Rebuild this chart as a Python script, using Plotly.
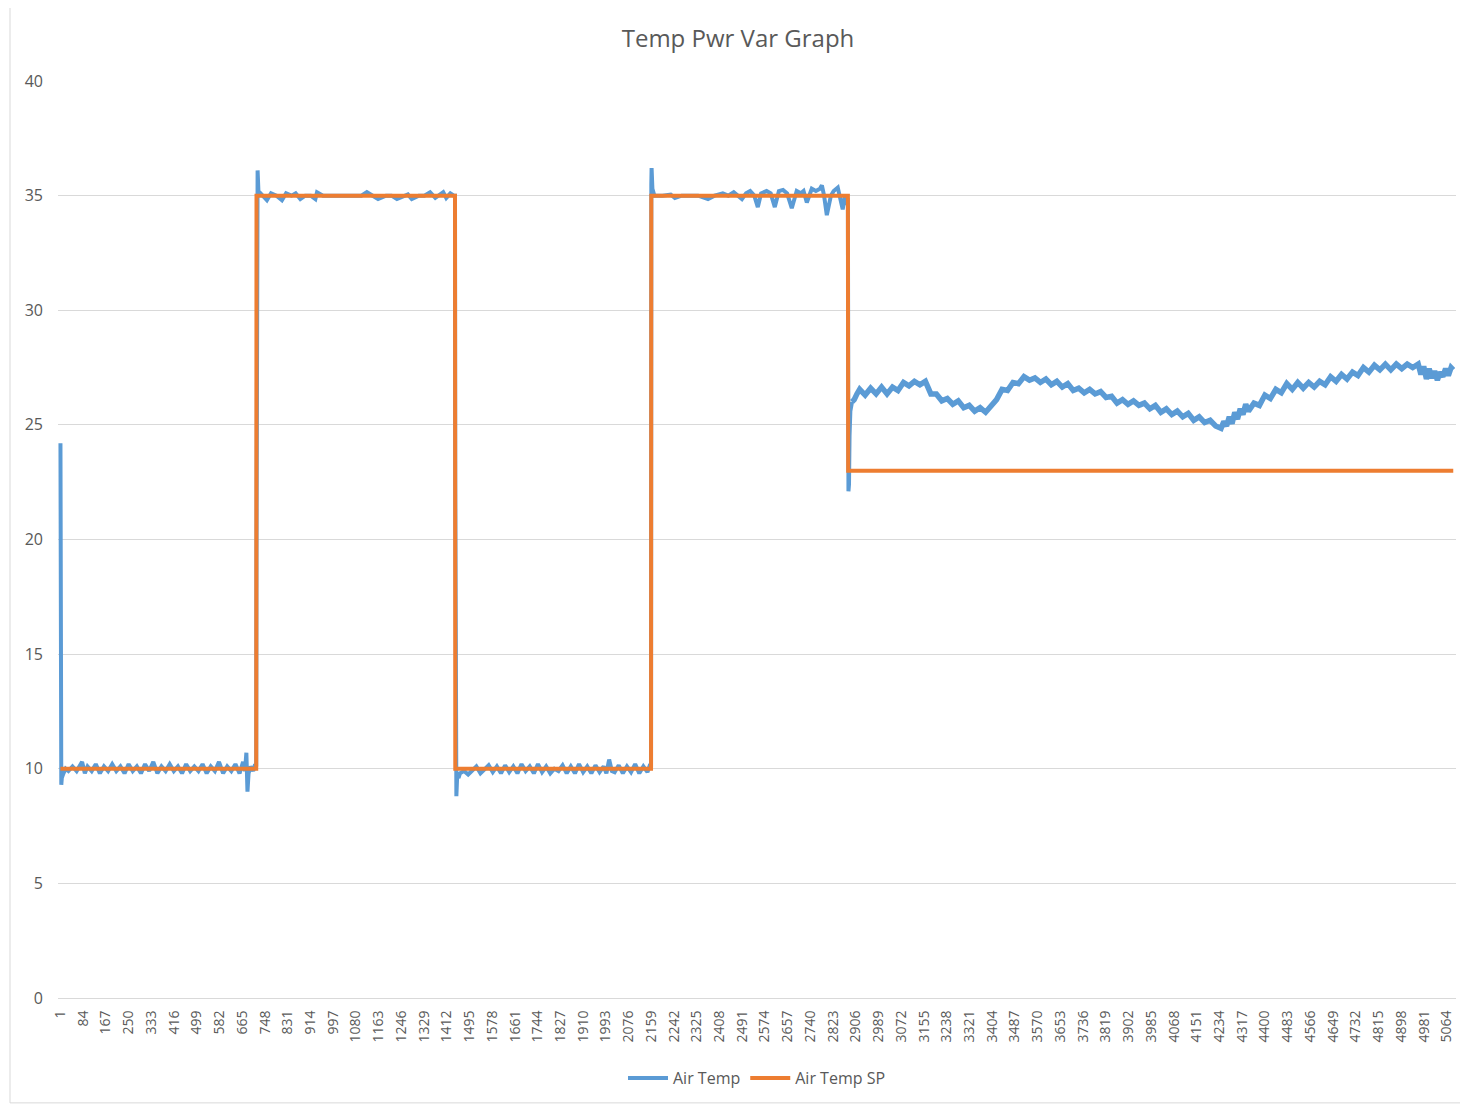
import plotly.graph_objects as go

# ---------------- data ----------------
title_text = "Temp Pwr Var Graph"
series_names = ["Air Temp", "Air Temp SP"]

x_tick_labels = [1, 84, 167, 250, 333, 416, 499, 582, 665, 748, 831, 914, 997, 1080,
                 1163, 1246, 1329, 1412, 1495, 1578, 1661, 1744, 1827, 1910, 1993, 2076,
                 2159, 2242, 2325, 2408, 2491, 2574, 2657, 2740, 2823, 2906, 2989, 3072,
                 3155, 3238, 3321, 3404, 3487, 3570, 3653, 3736, 3819, 3902, 3985, 4068,
                 4151, 4234, 4317, 4400, 4483, 4566, 4649, 4732, 4815, 4898, 4981, 5064]
y_ticks = [0, 5, 10, 15, 20, 25, 30, 35, 40]

# Air Temp SP (set point) - sample index / value
sp_idx = [1, 716, 717, 1442, 1443, 2158, 2159, 2877, 2878, 5088]
sp_val = [10, 10, 35, 35, 10, 10, 35, 35, 23, 23]

air_idx_low1 = [1, 2, 3, 4, 6, 12, 20, 30, 45, 60, 80, 90, 100, 115, 130, 145, 160, 175,
                190, 205, 220, 235, 250, 265, 280, 295, 310, 325, 340, 355, 370, 385, 400,
                415, 430, 445, 460, 475, 490, 505, 520, 535, 550, 565, 580, 595, 610, 625,
                640, 655, 668, 675, 680, 684, 688, 695, 705, 712, 716]
air_val_low1 = [24.2, 20.6, 13.2, 9.3, 9.6, 9.8, 10.0, 9.9, 10.1, 9.9, 10.3, 9.8, 10.1,
                9.9, 10.2, 9.8, 10.1, 9.9, 10.2, 9.9, 10.1, 9.8, 10.2, 9.9, 10.1, 9.8, 10.2,
                9.9, 10.3, 9.8, 10.1, 9.9, 10.2, 9.9, 10.1, 9.8, 10.2, 9.9, 10.1, 9.9, 10.2,
                9.8, 10.1, 9.9, 10.3, 9.8, 10.1, 9.9, 10.2, 9.8, 10.3, 9.9, 10.7, 9.0, 9.8,
                10.1, 9.9, 10.2, 10.1]

air_idx_high1 = [717, 718, 719, 721, 724, 740, 755, 770, 790, 810, 825, 845, 860, 877,
                 895, 915, 932, 938, 960, 990, 1020, 1050, 1080, 1100, 1120, 1140, 1161,
                 1190, 1210, 1230, 1255, 1270, 1284, 1310, 1330, 1351, 1370, 1385, 1399,
                 1410, 1425, 1438, 1442]
air_val_high1 = [19.5, 22.6, 35.2, 36.1, 35.2, 35.0, 34.8, 35.1, 35.0, 34.8, 35.1, 35.0,
                 35.1, 34.85, 35.0, 35.0, 34.85, 35.15, 35.0, 35.0, 35.0, 35.0, 35.0, 35.0,
                 35.15, 35.0, 34.85, 35.0, 35.0, 34.85, 35.0, 35.05, 34.85, 35.0, 35.0,
                 35.15, 34.9, 35.05, 35.15, 34.9, 35.1, 35.0, 35.0]

air_idx_low2 = [1443, 1444, 1445, 1447, 1450, 1455, 1460, 1475, 1490, 1505, 1520, 1535,
                1550, 1565, 1580, 1595, 1610, 1625, 1640, 1655, 1670, 1685, 1700, 1715,
                1730, 1745, 1760, 1775, 1790, 1805, 1820, 1835, 1850, 1865, 1880, 1895,
                1910, 1925, 1940, 1955, 1970, 1985, 1995, 2005, 2015, 2025, 2040, 2055,
                2070, 2085, 2100, 2115, 2130, 2145, 2155, 2158]
air_val_low2 = [22.6, 17.5, 12.3, 8.8, 9.7, 9.6, 9.8, 9.9, 9.75, 9.9, 10.1, 9.8, 10.0,
                10.15, 9.85, 10.1, 9.8, 10.15, 9.85, 10.1, 9.8, 10.2, 9.9, 10.1, 9.8, 10.2,
                9.85, 10.1, 9.8, 10.0, 9.9, 10.15, 9.8, 10.1, 9.8, 10.2, 9.85, 10.1, 9.8,
                10.15, 9.85, 10.1, 9.8, 10.4, 9.9, 9.85, 10.15, 9.8, 10.1, 9.85, 10.2, 9.8,
                10.1, 9.85, 10.2, 10.0]

air_idx_high2 = [2159, 2160, 2163, 2170, 2200, 2230, 2245, 2270, 2300, 2330, 2366, 2390,
                 2420, 2440, 2460, 2475, 2490, 2505, 2520, 2535, 2548, 2560, 2580, 2595,
                 2610, 2625, 2640, 2655, 2672, 2690, 2705, 2715, 2727, 2745, 2760, 2775,
                 2782, 2790, 2800, 2815, 2825, 2840, 2848, 2858, 2866, 2872, 2876]
air_val_high2 = [35.5, 36.2, 35.3, 35.0, 35.0, 35.05, 34.9, 35.0, 35.0, 35.0, 34.85, 35.0,
                 35.1, 35.0, 35.15, 35.0, 34.85, 35.1, 35.2, 35.0, 34.5, 35.1, 35.2, 35.1,
                 34.5, 35.2, 35.25, 35.1, 34.45, 35.2, 35.1, 35.2, 34.7, 35.3, 35.2, 35.3,
                 35.45, 35.0, 34.15, 35.0, 35.2, 35.35, 34.9, 34.4, 35.0, 34.6, 34.9]

air_idx_drop = [2877, 2879, 2881, 2883, 2886, 2892]
air_val_drop = [34.6, 22.1, 22.4, 24.5, 25.6, 26.0]

air_idx_tail = [2892, 2900, 2910, 2920, 2940, 2960, 2980,
                3000, 3020, 3040, 3060, 3080, 3100, 3120, 3140, 3160, 3180, 3200, 3220,
                3240, 3260, 3280, 3300, 3320, 3340, 3360, 3380, 3400, 3420, 3440, 3460,
                3480, 3500, 3520, 3540, 3560, 3580, 3600, 3620, 3640, 3660, 3680, 3700,
                3720, 3740, 3760, 3780, 3800, 3820, 3840, 3860, 3880, 3900, 3920, 3940,
                3960, 3980, 4000, 4020, 4040, 4060, 4080, 4100, 4120, 4140, 4160, 4180,
                4200, 4220, 4240, 4250, 4260, 4270, 4280, 4290, 4300, 4310, 4320, 4330,
                4340, 4360, 4380, 4400, 4420, 4440, 4460, 4480, 4500, 4520, 4540, 4560,
                4580, 4600, 4620, 4640, 4660, 4680, 4700, 4720, 4740, 4760, 4780, 4800,
                4820, 4840, 4860, 4880, 4900, 4920, 4940, 4960, 4970, 4980, 4990, 5000,
                5010, 5020, 5030, 5040, 5050, 5060, 5070, 5080, 5088]
air_val_tail = [26.0, 26.1, 26.35, 26.55, 26.3, 26.6, 26.35,
                26.65, 26.35, 26.65, 26.5, 26.85, 26.7, 26.9, 26.75, 26.9, 26.35, 26.35,
                26.05, 26.15, 25.9, 26.05, 25.75, 25.85, 25.6, 25.75, 25.55, 25.85, 26.1,
                26.55, 26.5, 26.85, 26.8, 27.1, 26.95, 27.05, 26.85, 27.0, 26.75, 26.9,
                26.65, 26.8, 26.5, 26.6, 26.4, 26.55, 26.35, 26.45, 26.2, 26.25, 25.95,
                26.1, 25.9, 26.05, 25.85, 25.95, 25.7, 25.85, 25.55, 25.7, 25.45, 25.6,
                25.35, 25.5, 25.2, 25.35, 25.1, 25.2, 24.95, 24.85, 25.15, 24.95, 25.35,
                25.05, 25.55, 25.25, 25.7, 25.45, 25.9, 25.6, 25.95, 25.85, 26.3, 26.15,
                26.55, 26.4, 26.8, 26.55, 26.85, 26.6, 26.85, 26.65, 26.9, 26.75, 27.1,
                26.9, 27.2, 27.0, 27.3, 27.15, 27.5, 27.3, 27.6, 27.4, 27.65, 27.4, 27.65,
                27.45, 27.65, 27.5, 27.65, 27.2, 27.55, 27.0, 27.45, 27.05, 27.35, 26.95,
                27.3, 27.1, 27.45, 27.15, 27.5, 27.4]

air_idx = air_idx_low1 + air_idx_high1 + air_idx_low2 + air_idx_high2 + air_idx_drop
air_val = air_val_low1 + air_val_high1 + air_val_low2 + air_val_high2 + air_val_drop

# ---------------- figure ----------------
FONT = "Open Sans"
TXT = "#595959"
BLUE, ORANGE = "#5B9BD5", "#ED7D31"
OFF = 8                      # page body margin in the browser
W, H = 1468 - OFF, 1106 - OFF
PL, PR, PT, PB = 58, 1456, 81, 999  # plot area in page pixels

fig = go.Figure()
fig.add_trace(go.Scatter(x=air_idx, y=air_val, mode="lines", name=series_names[0],
                         legendgroup="air", line=dict(color=BLUE, width=4)))
fig.add_trace(go.Scatter(x=air_idx_tail, y=air_val_tail, mode="lines",
                         name=series_names[0], legendgroup="air", showlegend=False,
                         line=dict(color=BLUE, width=5.5)))
fig.add_trace(go.Scatter(x=sp_idx, y=sp_val, mode="lines", name=series_names[1],
                         line=dict(color=ORANGE, width=4)))

pw, ph = PR - PL, PB - PT
fig.add_shape(type="rect", xref="paper", yref="paper",
              x0=(10 - PL) / pw, x1=(1466 - PL) / pw,
              y0=(PB - 1104) / ph, y1=(PB - 5) / ph,
              line=dict(color="#d9d9d9", width=1), layer="below")

fig.update_layout(
    width=W, height=H,
    margin=dict(l=PL - OFF, r=1468 - PR, t=PT - OFF, b=1106 - PB, pad=0),
    paper_bgcolor="white", plot_bgcolor="white",
    font=dict(family=FONT, color=TXT),
    title=dict(text=title_text, x=0.5, xanchor="center", y=1 - (39 - OFF) / H,
               yanchor="middle", font=dict(family=FONT, size=24, color=TXT)),
    showlegend=True,
    legend=dict(orientation="h", x=0.5, xanchor="center", y=(PB - 1078) / ph,
                yanchor="middle", font=dict(family=FONT, size=16, color=TXT),
                itemwidth=40, tracegroupgap=0),
    xaxis=dict(range=[-8, 5098], tickmode="array", tickvals=x_tick_labels,
               ticktext=[str(v) for v in x_tick_labels], tickangle=-90,
               tickfont=dict(family=FONT, size=14, color=TXT), showgrid=False,
               zeroline=False, showline=True, linecolor="#d9d9d9", linewidth=1,
               ticks="", ticklabelstandoff=6),
    yaxis=dict(range=[0, 40], tickmode="array", tickvals=y_ticks,
               tickfont=dict(family=FONT, size=16, color=TXT), showgrid=True,
               gridcolor="#d9d9d9", gridwidth=1, zeroline=False, showline=False,
               ticks="", ticklabelstandoff=14),
)

fig.write_html("out.html")
